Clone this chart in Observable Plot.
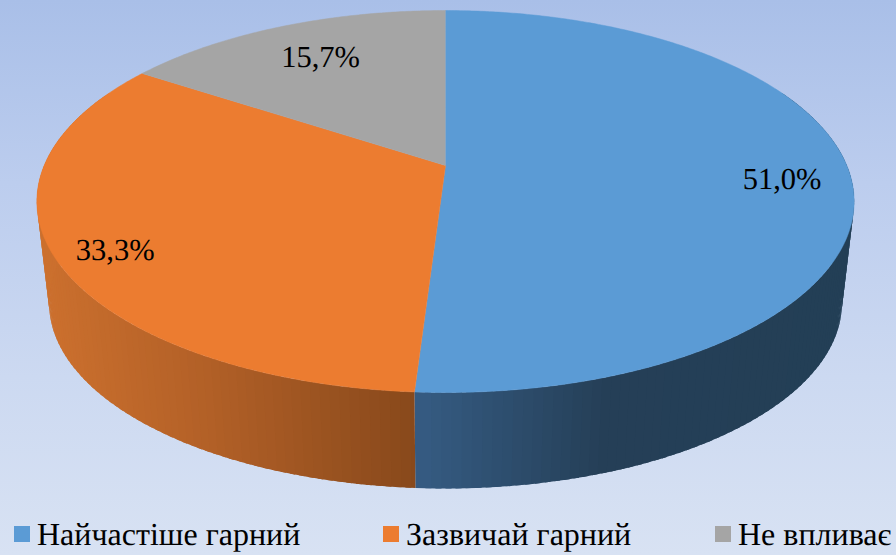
<!DOCTYPE html>
<html lang="uk">
<head>
<meta charset="utf-8">
<script src="https://cdn.jsdelivr.net/npm/d3@7"></script>
<script src="https://cdn.jsdelivr.net/npm/@observablehq/plot@0.6"></script>
<style>
html,body{margin:0;padding:0;width:896px;height:555px;overflow:hidden;
  background:linear-gradient(180deg,#a9bfe8 0%,#bccdee 33%,#ccd9f1 68%,#d8e2f3 100%);}
#chart svg{display:block;background:transparent;text-rendering:geometricPrecision;}
#legend{position:relative;height:45px;font:32px "Liberation Serif",serif;color:#000;text-rendering:geometricPrecision;}
#legend .sw{position:absolute;top:16px;width:16px;height:16px;}
#legend .tx{position:absolute;top:6px;line-height:36px;white-space:nowrap;}
</style>
</head>
<body>
<div id="chart"></div>
<div id="legend"></div>
<script>
// Data
const categories = ["Найчастіше гарний", "Зазвичай гарний", "Не впливає"];
const values = [51.0, 33.3, 15.7];
const colors = ["#5b9bd5", "#ec7c30", "#a5a5a5"];
const sideStops = [
  {x: [414, 600, 854], c: ["#355b82", "#253f57", "#233f56"]},
  {x: [36, 200, 414], c: ["#cc702e", "#b26027", "#87481b"]},
  {x: [36, 854], c: ["#7c7c7c", "#7c7c7c"]}
];
const labelNudge = [3.7, -3.3, 0];      // degrees
const labelRadius = [0.83, 0.871, 0.738];
const legendLeft = [14, 383, 715];

// Perspective view of the pie, in SVG units
const W = 896, H = 510;
const view = {cx: 445, cy: 165, a: 401.3, b: 184.2, k: 0.1885};
const lower = {s: 0.97, d: 102.8};
const rad = d3.scaleLinear().domain([0, 100]).range([0, 2 * Math.PI]);

function project(ang, r = 1, level = 0) {
  const X = Math.sin(ang) * r, v = -Math.cos(ang) * r;
  const w = 1 - view.k * v;
  const s = level ? lower.s : 1, d = level ? lower.d : 0;
  return {x: view.cx + s * view.a * X / w, y: view.cy + d + s * view.b * v / w};
}

const total = d3.sum(values);
let acc = 0;
const slices = values.map((v, i) => {
  const s = {i, start: rad(acc / total * 100), end: rad((acc + v) / total * 100)};
  acc += v;
  return s;
});

const polys = [], sides = [];
const step = Math.PI / 150;
const visFrom = Math.PI * 0.36, visTo = Math.PI * 1.64;

slices.forEach(s => {
  // top face
  polys.push({id: "t" + s.i, ...project(0, 0), fill: colors[s.i]});
  const n = Math.ceil((s.end - s.start) / (Math.PI / 360));
  for (let j = 0; j <= n; j++) {
    const a = s.start + (s.end - s.start) * j / n;
    polys.push({id: "t" + s.i, ...project(a), fill: colors[s.i]});
  }
  // rim strips, each reaching under its neighbour so that no seam shows
  const ramp = d3.scaleLinear().domain(sideStops[s.i].x).range(sideStops[s.i].c).clamp(true);
  const from = Math.max(s.start, visFrom), to = Math.min(s.end, visTo);
  if (to <= from) return;
  const m = Math.ceil((to - from) / step);
  for (let j = 0; j < m; j++) {
    const a0 = from + (to - from) * j / m, a1 = from + (to - from) * (j + 1) / m;
    const a2 = j ? a0 - (a1 - a0) * 0.6 : a0;
    const c = ramp(project((a0 + a1) / 2).x);
    const id = `s${s.i}-${j}`;
    [project(a2), project(a0), project(a1), project(a1, 1, 1), project(a0, 1, 1), project(a2, 1, 1)]
      .forEach(p => sides.push({id, ...p, fill: c}));
  }
});

const labelRows = slices.map(s => {
  const mid = (s.start + s.end) / 2 + labelNudge[s.i] * Math.PI / 180;
  return {...project(mid, labelRadius[s.i]), text: values[s.i].toFixed(1).replace(".", ",") + "%"};
});

const plot = Plot.plot({
  width: W, height: H,
  margin: 0,
  x: {domain: [0, W], range: [0, W], axis: null},
  y: {domain: [0, H], range: [0, H], axis: null},
  color: {type: "identity"},
  style: {background: "transparent"},
  marks: [
    Plot.line(sides, {x: "x", y: "y", z: "id", fill: "fill", stroke: "none", curve: "linear"}),
    Plot.line(polys, {x: "x", y: "y", z: "id", fill: "fill", stroke: "fill", strokeWidth: 0.5, curve: "linear"}),
    Plot.text(labelRows, {
      x: "x", y: "y", text: "text", fontSize: 30.5, dy: -1.5,
      fontFamily: "Liberation Serif", fill: "#000", textAnchor: "middle", lineAnchor: "middle"
    })
  ]
});
document.getElementById("chart").appendChild(plot);

const legend = document.getElementById("legend");
categories.forEach((c, i) => {
  const sw = document.createElement("span");
  sw.className = "sw"; sw.style.left = legendLeft[i] + "px"; sw.style.background = colors[i];
  const tx = document.createElement("span");
  tx.className = "tx"; tx.style.left = legendLeft[i] + 23 + "px"; tx.textContent = c;
  legend.append(sw, tx);
});
</script>
</body>
</html>
